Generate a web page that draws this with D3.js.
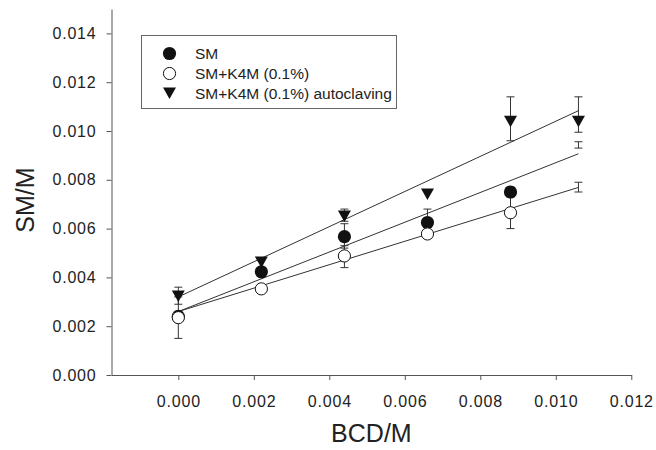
<!DOCTYPE html>
<html>
<head>
<meta charset="utf-8">
<script src="https://cdn.jsdelivr.net/npm/d3@7"></script>
<style>
  body { margin: 0; background: #fff; }
  svg { display: block; font-family: Arial, "Liberation Sans", sans-serif; }
</style>
</head>
<body>
<div id="visualizationTarget"></div>
<script>
var width = 656;
var height = 450;

// x positions (BCD/M)
var xValues = [0, 0.0022, 0.0044, 0.0066, 0.0088, 0.0106];

// series means, null = no marker drawn
var smValues = [0.0024, 0.00423, 0.00567, 0.00625, 0.0075, null];
var k4mValues = [0.00235, 0.00353, 0.00488, 0.00578, 0.00665, null];
var autoValues = [0.00324, 0.00463, 0.00652, 0.00742, 0.0104, 0.0104];

// error bar ends
var smErrLow = [null, null, 0.0052, 0.0057, 0.0067, 0.0093];
var smErrHigh = [null, null, 0.0062, 0.0068, 0.0077, 0.00956];
var k4mErrLow = [0.0015, null, 0.0044, null, 0.0060, 0.0075];
var k4mErrHigh = [0.0032, null, 0.0053, null, 0.0073, 0.0079];
var autoErrLow = [0.0029, null, 0.0063, null, 0.0096, 0.00995];
var autoErrHigh = [0.0036, null, 0.0068, null, 0.0114, 0.0114];

// linear fits
var seriesNames = ["SM", "SM+K4M (0.1%)", "SM+K4M (0.1%) autoclaving"];
var fitIntercept = [0.0026, 0.0026, 0.0032];
var fitSlope = [0.61, 0.48, 0.72];

var xTicks = [0, 0.002, 0.004, 0.006, 0.008, 0.010, 0.012];
var yTicks = [0, 0.002, 0.004, 0.006, 0.008, 0.010, 0.012, 0.014];

var x = d3.scaleLinear().domain([-0.00177, 0.012]).range([111.5, 631.3]);
var y = d3.scaleLinear().domain([0, 0.015]).range([375, 9]);

var svg = d3.select("#visualizationTarget")
    .append("svg")
    .attr("width", width)
    .attr("height", height);

// axes
var yAxis = svg.append("g")
    .attr("transform", "translate(" + x.range()[0] + ",0)")
    .call(d3.axisLeft(y).tickValues(yTicks).tickFormat(d3.format(".3f")).tickSize(5).tickPadding(10).tickSizeOuter(0));

var xAxis = svg.append("g")
    .attr("transform", "translate(0," + y(0) + ")")
    .call(d3.axisBottom(x).tickValues(xTicks).tickFormat(d3.format(".3f")).tickSize(5).tickPadding(16).tickSizeOuter(0));

[xAxis, yAxis].forEach(function(a){
    a.select(".domain").attr("stroke", "#555");
    a.selectAll(".tick line").attr("stroke", "#555");
    a.selectAll("text")
        .attr("fill", "#222")
        .style("font-size", "16px")
        .style("letter-spacing", "0.8px");
});
xAxis.selectAll("text").attr("dy", "0.71em");

svg.append("text")
    .attr("x", (x.range()[0] + x.range()[1]) / 2)
    .attr("y", 442)
    .attr("text-anchor", "middle")
    .style("font-size", "25px")
    .attr("fill", "#222")
    .text("BCD/M");

svg.append("text")
    .attr("transform", "translate(34,200) rotate(-90)")
    .attr("text-anchor", "middle")
    .style("font-size", "25px")
    .attr("fill", "#222")
    .text("SM/M");

// regression lines
var fitX = [0, d3.max(xValues)];
var fits = seriesNames.map(function(n, i){
    return fitX.map(function(v){ return [v, fitIntercept[i] + fitSlope[i] * v]; });
});
var line = d3.line()
    .x(function(d){ return x(d[0]); })
    .y(function(d){ return y(d[1]); });

svg.append("g")
    .selectAll("path")
    .data(fits)
    .enter()
        .append("path")
        .attr("d", line)
        .attr("fill", "none")
        .attr("stroke", "#333")
        .attr("stroke-width", 1);

// error bars
var errSets = [[smErrLow, smErrHigh], [k4mErrLow, k4mErrHigh], [autoErrLow, autoErrHigh]];
var errData = [];
errSets.forEach(function(s){
    xValues.forEach(function(v, i){
        if (s[0][i] != null) errData.push({x: v, lo: s[0][i], hi: s[1][i]});
    });
});
var capW = 4;
var eb = svg.append("g").attr("stroke", "#333").attr("stroke-width", 1);
eb.selectAll("line.v").data(errData).enter().append("line")
    .attr("x1", function(d){ return x(d.x); })
    .attr("x2", function(d){ return x(d.x); })
    .attr("y1", function(d){ return y(d.lo); })
    .attr("y2", function(d){ return y(d.hi); });
eb.selectAll("line.lo").data(errData).enter().append("line")
    .attr("x1", function(d){ return x(d.x) - capW; })
    .attr("x2", function(d){ return x(d.x) + capW; })
    .attr("y1", function(d){ return y(d.lo); })
    .attr("y2", function(d){ return y(d.lo); });
eb.selectAll("line.hi").data(errData).enter().append("line")
    .attr("x1", function(d){ return x(d.x) - capW; })
    .attr("x2", function(d){ return x(d.x) + capW; })
    .attr("y1", function(d){ return y(d.hi); })
    .attr("y2", function(d){ return y(d.hi); });

// markers
function pts(vals) {
    return xValues.map(function(v, i){ return {x: v, y: vals[i]}; })
        .filter(function(d){ return d.y != null; });
}
var circleR = 6.6;
var triPath = "M-6.5,-5.5L6.5,-5.5L0,6Z";

svg.append("g").selectAll("circle").data(pts(smValues)).enter().append("circle")
    .attr("cx", function(d){ return x(d.x); })
    .attr("cy", function(d){ return y(d.y); })
    .attr("r", circleR)
    .attr("fill", "#111");

svg.append("g").selectAll("circle").data(pts(k4mValues)).enter().append("circle")
    .attr("cx", function(d){ return x(d.x); })
    .attr("cy", function(d){ return y(d.y); })
    .attr("r", circleR - 0.5)
    .attr("fill", "#fff")
    .attr("stroke", "#111")
    .attr("stroke-width", 1);

svg.append("g").selectAll("path").data(pts(autoValues)).enter().append("path")
    .attr("transform", function(d){ return "translate(" + x(d.x) + "," + y(d.y) + ")"; })
    .attr("d", triPath)
    .attr("fill", "#111");

// legend
var legend = svg.append("g");
legend.append("rect")
    .attr("x", 141.5).attr("y", 35.5)
    .attr("width", 255).attr("height", 73)
    .attr("fill", "#fff")
    .attr("stroke", "#666");

var rowY = [53.5, 73.5, 93];
legend.append("circle").attr("cx", 169.5).attr("cy", rowY[0]).attr("r", circleR).attr("fill", "#111");
legend.append("circle").attr("cx", 169.5).attr("cy", rowY[1]).attr("r", circleR - 0.5)
    .attr("fill", "#fff").attr("stroke", "#111");
legend.append("path").attr("transform", "translate(169.5," + rowY[2] + ")").attr("d", triPath).attr("fill", "#111");

legend.selectAll("text")
    .data(seriesNames)
    .enter()
        .append("text")
        .attr("x", 195)
        .attr("y", function(d, i){ return rowY[i]; })
        .attr("dy", "0.36em")
        .style("font-size", "15.5px")
        .attr("fill", "#222")
        .text(function(d){ return d; });
</script>
</body>
</html>
